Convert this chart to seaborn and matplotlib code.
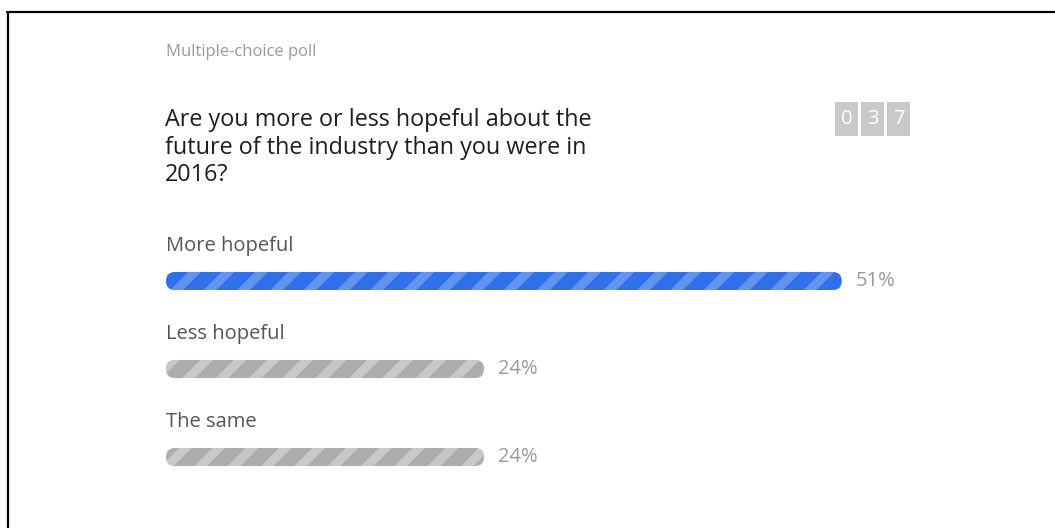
import matplotlib
matplotlib.use("Agg")
import matplotlib.pyplot as plt
import seaborn as sns
import pandas as pd
from matplotlib.patches import FancyBboxPatch, Rectangle
from matplotlib.lines import Line2D

# ---- data ----
subtitle = "Multiple-choice poll"
question = "Are you more or less hopeful about the\nfuture of the industry than you were in\n2016?"
options = ["More hopeful", "Less hopeful", "The same"]
percents = [51, 24, 24]
vote_count = "037"

sns.set_theme(style="white")
plt.rcParams['font.family'] = ['Open Sans', 'DejaVu Sans']
plt.rcParams['hatch.linewidth'] = 6.5

W, H = 1055, 528
fig = plt.figure(figsize=(W / 100, H / 100), dpi=100)
fig.patch.set_facecolor("white")

def fx(px):
    return px / W

def fy(py):
    return 1 - py / H

# frame lines (top and left)
fig.add_artist(Line2D([fx(7), fx(1055)], [fy(12), fy(12)], color="black", lw=1.6))
fig.add_artist(Line2D([fx(8), fx(8)], [fy(12), fy(528)], color="black", lw=1.6))

# texts
fig.text(fx(166), fy(52), subtitle, fontsize=12, color="#9a9a9a", va="center", ha="left")
fig.text(fx(165), fy(108), question, fontsize=16.8, color="#1e1e1e", va="top", ha="left",
         linespacing=1.2)

# vote counter
bx = [835, 861, 887]
for i, d in enumerate(vote_count):
    fig.add_artist(Rectangle((fx(bx[i]), fy(136)), fx(23), 34 / H, transform=fig.transFigure,
                             facecolor="#c9c9c9", edgecolor="none"))
    fig.text(fx(bx[i] + 11.5), fy(119), d, fontsize=14.5, color="white", ha="center", va="center")

# bars axis
s = 13.25  # px per percent
row = 88.0
xmax = 60
top_px = 281 - row / 2
ax = fig.add_axes([fx(166), fy(top_px + 3 * row), xmax * s / W, 3 * row / H])
df = pd.DataFrame({"option": options, "percent": percents})
sns.barplot(data=df, x="percent", y="option", orient="h", ax=ax, width=0.205,
            color="#3a78ea")
ax.set_xlim(0, xmax)
ax.set_ylim(2.5, -0.5)
ax.axis("off")

face = ["#2f6fe8", "#acacac", "#acacac"]
stripe = ["#6193f0", "#c8c8c8", "#c8c8c8"]
r_x = 9.0 / s
r_y = 9.0 / row
for i, p in enumerate(list(ax.patches)):
    x0, y0 = p.get_x(), p.get_y()
    w, h = p.get_width(), p.get_height()
    p.remove()
    fb = FancyBboxPatch((x0, y0), w, h,
                        boxstyle=f"round,pad=0,rounding_size={r_x}",
                        mutation_aspect=r_y / r_x,
                        facecolor=face[i], edgecolor=stripe[i], linewidth=0,
                        hatch="/")
    ax.add_patch(fb)
    ax.annotate(f"{percents[i]}%", xy=(x0 + w, y0 + h / 2), xytext=(10, 0),
                textcoords="offset points", fontsize=14.5, color="#9a9a9a",
                va="center", ha="left")
    ax.text(0, y0 + h / 2 - 0.40, options[i], fontsize=14.5, color="#555555",
            va="center", ha="left")

fig.savefig("out.png", dpi=100, facecolor="white")
